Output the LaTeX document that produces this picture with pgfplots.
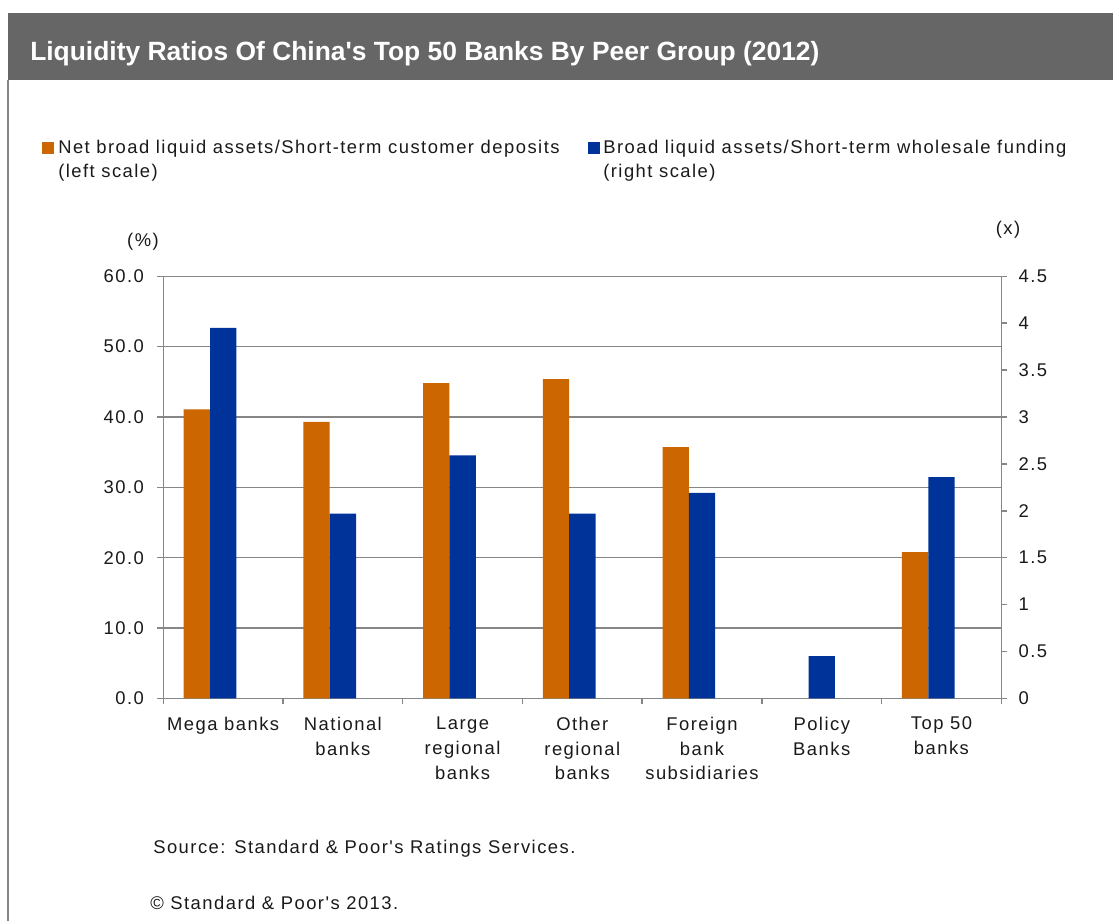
\documentclass[border=0pt]{standalone}
\usepackage{fontspec}
\setmainfont{Liberation Sans}
\newfontfamily\chartfont[LetterSpace=8]{Liberation Sans}
\newfontfamily\titlefont[Ligatures=NoCommon]{Liberation Sans}
\usepackage{pgfplots}
\pgfplotsset{compat=1.18}
\definecolor{barorange}{HTML}{CC6600}
\definecolor{barblue}{HTML}{003399}
\definecolor{gridgray}{HTML}{868686}
\definecolor{titlegray}{HTML}{666666}
\definecolor{txt}{HTML}{1A1A1A}
\newcommand{\cf}{\chartfont\fontsize{13.8pt}{18.5pt}\selectfont}
\begin{document}
\begin{tikzpicture}
\useasboundingbox (0,0) rectangle (834.75pt,690.75pt);
\fill[white] (0,0) rectangle (834.75pt,690.75pt);
\begin{scope}[x=0.75pt,y=-0.75pt,shift={(0pt,690.75pt)}]
  \fill[titlegray] (8,13) rectangle (1113,80);
  \draw[gridgray, line width=1.1pt] (8,80) -- (8,921);
  \node[anchor=base west, text=white, inner sep=0, font=\titlefont\bfseries\fontsize{19.8pt}{24pt}\selectfont] at (30,61) {Liquidity Ratios Of China\textquotesingle s Top 50 Banks By Peer Group (2012)};
  \fill[barorange] (42,142) rectangle (54,154);
  \node[anchor=base west, inner sep=0, font=\cf, text=txt] at (58,154) {Net broad liquid assets/Short-term customer deposits};
  \node[anchor=base west, inner sep=0, font=\cf, text=txt] at (58,178) {(left scale)};
  \fill[barblue] (588,142) rectangle (600,154);
  \node[anchor=base west, inner sep=0, font=\cf, text=txt] at (603,154) {Broad liquid assets/Short-term wholesale funding};
  \node[anchor=base west, inner sep=0, font=\cf, text=txt] at (603,178) {(right scale)};
  \node[inner sep=0, font=\cf, text=txt] at (143,242) {(\%)};
  \node[inner sep=0, font=\cf, text=txt] at (1008,230) {(x)};
  \node[anchor=base west, inner sep=0, font=\cf, text=txt] at (153,853) {Source: Standard \& Poor's Ratings Services.};
  \node[anchor=base west, inner sep=0, font=\cf, text=txt] at (150,909) {© Standard \& Poor's 2013.};
\end{scope}
\begin{axis}[
  at={(122.5pt,167.0pt)}, anchor=south west,
  scale only axis, width=628.5pt, height=316.5pt,
  xmin=-0.5, xmax=6.5, ymin=0, ymax=60,
  axis x line*=bottom, axis y line*=left,
  axis line style={gridgray, line width=1.1pt, -},
  tick align=outside, major tick length=4.5pt,
  tick style={gridgray, line width=1.1pt},
  ytick={0,10,...,60},
  ymajorgrids=true, grid style={gridgray, line width=1.1pt},
  yticklabel style={/pgf/number format/.cd, fixed, fixed zerofill, precision=1, assume math mode=true, /tikz/.cd, font=\cf, text=txt, xshift=-6.5pt},
  xtick={-0.5,0.5,...,6.5},
  xticklabels={},
  extra x ticks={0,1,2,3,4,5,6},
  extra x tick labels={{Mega banks},{National\\banks},{Large\\regional\\banks},{Other\\regional\\banks},{Foreign\\bank\\subsidiaries},{Policy\\Banks},{Top 50\\banks}},
  extra x tick style={tick style={draw=none}, xticklabel style={align=center, font=\cf, text=txt, yshift=-6pt}},
]
\addplot[ybar, bar width=0.22, bar shift=-0.22, fill=barorange, draw=none] coordinates {
(0,41.1) (1,39.3) (2,44.8) (3,45.4) (4,35.7) (6,20.8)};
\end{axis}
\begin{axis}[
  at={(122.5pt,167.0pt)}, anchor=south west,
  scale only axis, width=628.5pt, height=316.5pt,
  xmin=-0.5, xmax=6.5, ymin=0, ymax=4.5,
  axis x line=none, axis y line*=right,
  axis line style={gridgray, line width=1.1pt, -},
  tick align=outside, major tick length=4.5pt,
  tick style={gridgray, line width=1.1pt},
  ytick={0,0.5,...,4.5},
  yticklabel style={/pgf/number format/.cd, assume math mode=true, /tikz/.cd, font=\cf, text=txt, xshift=5pt},
]
\addplot[ybar, bar width=0.22, bar shift=0, fill=barblue, draw=none] coordinates {
(0,3.95) (1,1.97) (2,2.59) (3,1.97) (4,2.19) (5,0.45) (6,2.36)};
\end{axis}
\end{tikzpicture}
\end{document}
